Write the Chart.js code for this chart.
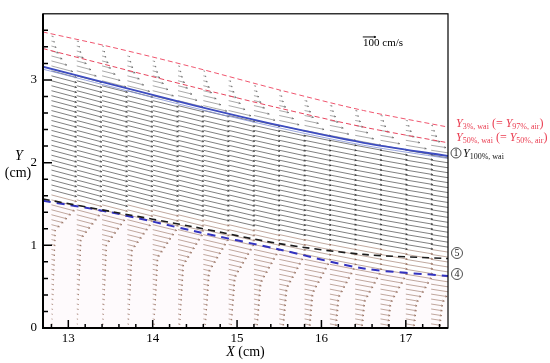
<!DOCTYPE html>
<html>
<head>
<meta charset="utf-8">
<script src="https://cdn.jsdelivr.net/npm/chart.js@4.4.1/dist/chart.umd.min.js"></script>
<style>
html, body { margin: 0; padding: 0; background: #fff; }
#wrap { width: 550px; height: 363px; position: relative; }
</style>
</head>
<body>
<div id="wrap"><canvas id="chart" width="550" height="363"></canvas></div>
<script>
// measurement columns (cm) and row grid
var colX = [12.8, 13.1, 13.4, 13.7, 14.0, 14.3, 14.6, 14.9, 15.2, 15.5, 15.8, 16.1, 16.4, 16.7, 17.0, 17.3];
var rowFirst = 0.05, rowStep = 0.06, rowLast = 3.62;

// boundary lines, read at lineX
var lineX    = [12.7, 13.5, 14.5, 15.5, 16.5, 17.5];
var y3wai    = [3.58, 3.40, 3.15, 2.88, 2.63, 2.43];
var y50wai   = [3.38, 3.17, 2.91, 2.66, 2.43, 2.24];
var y100wai  = [3.16, 2.95, 2.69, 2.45, 2.24, 2.08];
var y100edge = [3.13, 2.92, 2.66, 2.42, 2.21, 2.05];
var line5    = [1.56, 1.41, 1.22, 1.02, 0.89, 0.84];
var line4    = [1.54, 1.40, 1.17, 0.95, 0.72, 0.63];

// velocity per column (cm/s): jet, at bottom of fan, at bed; fan depth (cm); flow slope
var jetSpeed  = [200, 200, 202, 202, 204, 204, 205, 206, 206, 207, 208, 208, 209, 210, 210, 210];
var fanSpeed  = [35, 38, 40, 42, 45, 48, 52, 56, 60, 65, 70, 75, 80, 85, 90, 95];
var bedSpeed  = [5, 6, 8, 10, 12, 15, 18, 22, 28, 35, 45, 52, 58, 64, 68, 70];
var fanDepth  = [0.33, 0.38, 0.4, 0.4, 0.42, 0.44, 0.45, 0.45, 0.45, 0.45, 0.44, 0.42, 0.4, 0.38, 0.35, 0.32];
var flowSlope = [-0.27, -0.27, -0.26, -0.26, -0.25, -0.25, -0.24, -0.24, -0.23, -0.22, -0.21, -0.2, -0.19, -0.18, -0.17, -0.16];

// air side: share of jet speed against relative height between Y100% and Y3%
var airZ = [0, 0.2, 0.45, 0.7, 1.0];
var airF = [1, 0.65, 0.32, 0.16, 0.05];

var refArrow = { x: 16.49, y: 3.52, speed: 100 };
var cmPer100 = 0.154;

var xTicks = [13, 14, 15, 16, 17];
var yTicks = [0, 1, 2, 3];

function interp(x, xs, ys) {
  if (x <= xs[0]) return ys[0];
  for (var i = 1; i < xs.length; i++) {
    if (x <= xs[i]) {
      var t = (x - xs[i - 1]) / (xs[i] - xs[i - 1]);
      return ys[i - 1] + t * (ys[i] - ys[i - 1]);
    }
  }
  return ys[ys.length - 1];
}

function curve(ys) {
  return lineX.map(function (x, i) { return { x: x, y: ys[i] }; });
}

// one arrow = shaft + two barbs, broken by null points
function addVector(out, x0, y0, speed, slope) {
  var len = Math.max(speed / 100 * cmPer100, 0.006);
  var c = 1 / Math.sqrt(1 + slope * slope), s = slope * c;
  var x1 = x0 + len * c, y1 = y0 + len * s;
  out.push({ x: x0, y: y0 }, { x: x1, y: y1 }, { x: x1, y: null });
  var h = Math.min(0.024, len * 0.3), a = 0.4;
  var bx = -c * h, by = -s * h;
  out.push(
    { x: x1 + bx * Math.cos(a) - by * Math.sin(a), y: y1 + bx * Math.sin(a) + by * Math.cos(a) },
    { x: x1, y: y1 },
    { x: x1 + bx * Math.cos(-a) - by * Math.sin(-a), y: y1 + bx * Math.sin(-a) + by * Math.cos(-a) },
    { x: x1, y: null }
  );
}

var darkVecs = [], airVecs = [], brownVecs = [];
colX.forEach(function (cx, i) {
  var t3 = interp(cx, lineX, y3wai);
  var t100 = interp(cx, lineX, y100wai);
  var t5 = interp(cx, lineX, line5);
  var t4 = interp(cx, lineX, line4);
  for (var y = rowFirst; y <= rowLast; y += rowStep) {
    if (y > t3) break;
    var sp, out = darkVecs;
    if (y > t100) {
      out = airVecs;
      sp = jetSpeed[i] * interp((y - t100) / (t3 - t100), airZ, airF);
    } else if (y >= t4) {
      sp = jetSpeed[i];
      if (y < t5 + 0.12) out = brownVecs;
    } else {
      out = brownVecs;
      var d = t4 - y;
      if (d < fanDepth[i]) {
        sp = jetSpeed[i] + (fanSpeed[i] - jetSpeed[i]) * d / fanDepth[i];
      } else {
        var top = t4 - fanDepth[i];
        sp = fanSpeed[i] + (bedSpeed[i] - fanSpeed[i]) * (top - y) / top;
      }
    }
    addVector(out, cx, y, sp, flowSlope[i]);
  }
});

var refVec = [];
addVector(refVec, refArrow.x, refArrow.y, refArrow.speed, 0);

var serif = '"Liberation Serif", "Times New Roman", serif';

function rich(ctx, x, y, parts, color) {
  ctx.fillStyle = color;
  ctx.textAlign = 'left';
  ctx.textBaseline = 'alphabetic';
  parts.forEach(function (p) {
    ctx.font = (p[2] ? 'italic ' : '') + p[1] + 'px ' + serif;
    ctx.fillText(p[0], x, y + (p[3] || 0));
    x += ctx.measureText(p[0]).width;
  });
  return x;
}

function circled(ctx, cx, cy, r, txt) {
  ctx.beginPath();
  ctx.arc(cx, cy, r, 0, Math.PI * 2);
  ctx.lineWidth = 0.8;
  ctx.strokeStyle = '#222';
  ctx.stroke();
  ctx.fillStyle = '#222';
  ctx.font = '10px ' + serif;
  ctx.textAlign = 'center';
  ctx.textBaseline = 'middle';
  ctx.fillText(txt, cx, cy + 0.5);
}

var decor = {
  id: 'decor',
  afterDraw: function (chart) {
    var ctx = chart.ctx, a = chart.chartArea;
    var xs = chart.scales.x, ys = chart.scales.y;
    ctx.save();
    ctx.strokeStyle = '#000';
    // frame
    ctx.lineWidth = 1.2;
    ctx.strokeRect(a.left, a.top, a.right - a.left, a.bottom - a.top);
    ctx.lineWidth = 2;
    ctx.beginPath();
    ctx.moveTo(a.left, a.top); ctx.lineTo(a.left, a.bottom); ctx.lineTo(a.right, a.bottom);
    ctx.stroke();
    // inward ticks
    ctx.lineWidth = 1.5;
    ctx.beginPath();
    for (var v = 12.8; v < 17.5; v += 0.2) {
      var major = xTicks.indexOf(Math.round(v * 10) / 10) >= 0;
      var px = xs.getPixelForValue(v);
      ctx.moveTo(px, a.bottom); ctx.lineTo(px, a.bottom - (major ? 8 : 4));
    }
    for (var w = 0.2; w < 3.8; w += 0.2) {
      var majorY = yTicks.indexOf(Math.round(w * 10) / 10) >= 0;
      var py = ys.getPixelForValue(w);
      ctx.moveTo(a.left, py); ctx.lineTo(a.left + (majorY ? 9 : 5), py);
    }
    ctx.stroke();

    // axis titles
    ctx.fillStyle = '#000';
    ctx.textAlign = 'center';
    ctx.textBaseline = 'alphabetic';
    ctx.font = 'italic 14px ' + serif;
    ctx.fillText('Y', 19, 160);
    ctx.font = '14px ' + serif;
    ctx.fillText('(cm)', 18, 177);
    var xw = rich(ctx, 0, -100, [['X', 14, true], [' (cm)', 14, false]], '#000');
    rich(ctx, (a.left + a.right) / 2 - xw / 2, 356, [['X', 14, true], [' (cm)', 14, false]], '#000');

    // reference arrow label
    ctx.font = '11px ' + serif;
    ctx.textAlign = 'left';
    ctx.fillText('100 cm/s', 363, 46);

    // right labels
    var red = '#ea3b4f';
    rich(ctx, 456, 127, [['Y', 12, true], ['3%, wai', 8, false, 2], [' (= ', 12, false], ['Y', 12, true], ['97%, air', 8, false, 2], [')', 12, false]], red);
    rich(ctx, 456, 141, [['Y', 12, true], ['50%, wai', 8, false, 2], [' (= ', 12, false], ['Y', 12, true], ['50%, air', 8, false, 2], [')', 12, false]], red);
    circled(ctx, 456, 153, 5, '1');
    rich(ctx, 463, 157, [['Y', 12, true], ['100%, wai', 8, false, 2]], '#111');
    circled(ctx, 457, 253, 5.5, '5');
    circled(ctx, 457, 274, 5.5, '4');
    ctx.restore();
  }
};

Chart.defaults.font.family = serif;

new Chart(document.getElementById('chart'), {
  type: 'scatter',
  data: {
    datasets: [
      { data: curve(y3wai), showLine: true, borderColor: '#f0566f', borderWidth: 1, borderDash: [5, 3], pointRadius: 0, tension: 0.3 },
      { data: curve(y50wai), showLine: true, borderColor: '#e8465f', borderWidth: 1, borderDash: [5, 3], pointRadius: 0, tension: 0.3 },
      { data: curve(y100wai), showLine: true, borderColor: '#3d4cc0', borderWidth: 1.8, pointRadius: 0, tension: 0.3 },
      { data: curve(y100edge), showLine: true, borderColor: 'rgba(130,145,215,0.8)', borderWidth: 1, pointRadius: 0, tension: 0.3 },
      { data: curve(line5), showLine: true, borderColor: '#1c1c1c', borderWidth: 1.6, borderDash: [7, 5], pointRadius: 0, tension: 0.3 },
      { data: curve(line4), showLine: true, borderColor: '#3232c0', borderWidth: 2, borderDash: [8, 6], pointRadius: 0, tension: 0.3 },
      { data: refVec, showLine: true, borderColor: '#111', borderWidth: 1, pointRadius: 0, clip: false },
      { data: darkVecs, showLine: true, borderColor: 'rgba(40,40,40,0.85)', borderWidth: 0.7, pointRadius: 0 },
      { data: airVecs, showLine: true, borderColor: 'rgba(50,50,50,0.6)', borderWidth: 0.7, pointRadius: 0 },
      { data: brownVecs, showLine: true, borderColor: 'rgba(135,90,70,0.75)', borderWidth: 0.7, pointRadius: 0 },
      { data: curve(line4), showLine: true, borderWidth: 0, pointRadius: 0, tension: 0.3, fill: 'origin', backgroundColor: 'rgba(250,232,240,0.2)' }
    ]
  },
  options: {
    responsive: false,
    animation: false,
    events: [],
    layout: { padding: { top: 6, right: 102, left: 0, bottom: 0 } },
    plugins: { legend: { display: false }, tooltip: { enabled: false } },
    scales: {
      x: {
        type: 'linear', min: 12.7, max: 17.5,
        grid: { display: false, drawTicks: false },
        border: { display: false },
        afterBuildTicks: function (s) { s.ticks = xTicks.map(function (v) { return { value: v }; }); },
        afterFit: function (s) { s.height = 35; },
        ticks: { padding: 3, color: '#000', font: { size: 13, family: serif } }
      },
      y: {
        type: 'linear', min: 0, max: 3.8,
        grid: { display: false, drawTicks: false },
        border: { display: false },
        afterBuildTicks: function (s) { s.ticks = yTicks.map(function (v) { return { value: v }; }); },
        afterFit: function (s) { s.width = 43; },
        ticks: { padding: 6, color: '#000', font: { size: 13, family: serif } }
      }
    }
  },
  plugins: [decor]
});
</script>
</body>
</html>
